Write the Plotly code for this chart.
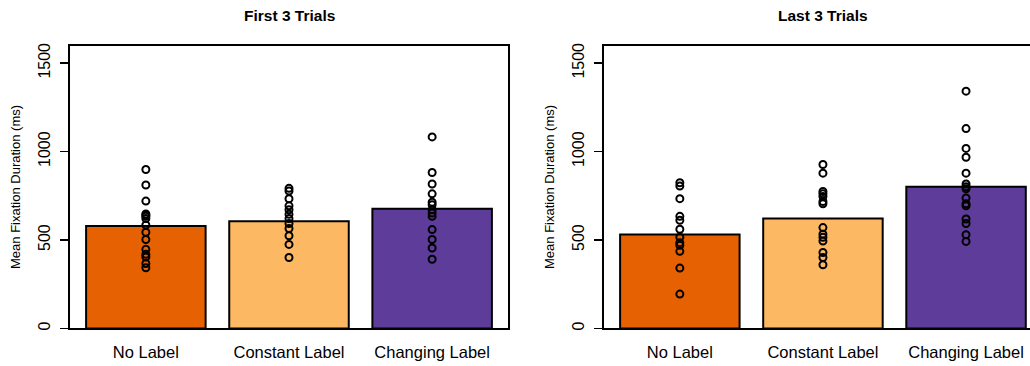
import plotly.graph_objects as go

categories = ["No Label", "Constant Label", "Changing Label"]
colors = ["#E66101", "#FDB863", "#5E3C99"]

first_means = [579, 606, 677]
last_means = [531, 621, 801]

first_no = [899, 811, 720, 647, 640, 634, 621, 585, 544, 503, 447, 419, 404, 367, 343]
first_const = [792, 777, 733, 693, 671, 645, 621, 593, 565, 524, 475, 401]
first_change = [1083, 882, 817, 761, 714, 699, 671, 652, 634, 559, 503, 455, 391]

last_no = [824, 805, 734, 634, 611, 561, 516, 485, 470, 436, 341, 194]
last_const = [927, 878, 774, 761, 746, 718, 705, 570, 533, 515, 494, 429, 401, 360]
last_change = [1342, 1130, 1018, 968, 878, 817, 801, 790, 738, 705, 694, 619, 593, 530, 492]

titles = ["First 3 Trials", "Last 3 Trials"]
y_title = "Mean Fixation Duration (ms)"
y_ticks = [0, 500, 1000, 1500]

W, H = 1030, 366
FONT = "Liberation Sans, Arial, Helvetica, sans-serif"


def fx(p):
    return p / W


def fy(p):
    return 1 - p / H


fig = go.Figure()

panels = [
    (first_means, [first_no, first_const, first_change], "x", "y"),
    (last_means, [last_no, last_const, last_change], "x2", "y2"),
]

for means, pts, xa, ya in panels:
    fig.add_trace(go.Bar(
        x=[0, 1, 2], y=means, width=0.835,
        marker=dict(color=colors, line=dict(color="black", width=2)),
        xaxis=xa, yaxis=ya, showlegend=False, hoverinfo="skip",
    ))
    for i, p in enumerate(pts):
        fig.add_trace(go.Scatter(
            x=[i] * len(p), y=p, mode="markers",
            marker=dict(symbol="circle-open", size=7, color="black",
                        line=dict(width=2, color="black")),
            xaxis=xa, yaxis=ya, showlegend=False, hoverinfo="skip",
        ))

px = 143.1
ydom = [fy(330), fy(44)]
x1dom = [fx(70), fx(508)]
x2dom = [fx(604), 1.0]
x1rng = [-0.53, 2.53]
x2rng = [-0.53, -0.53 + (W - 604) / px]

common_x = dict(tickvals=[0, 1, 2], ticktext=categories, ticks="",
                showgrid=False, zeroline=False, showline=True, linecolor="black",
                linewidth=2, tickfont=dict(family=FONT, size=16.5, color="black"),
                ticklabelstandoff=8, fixedrange=True, mirror=True,
                ticklabeloverflow="allow")
common_y = dict(range=[0, 1600], tickvals=y_ticks, ticks="outside", ticklen=8,
                tickwidth=1.5, tickcolor="black", showgrid=False, zeroline=False,
                showline=True, linecolor="black", linewidth=2, tickangle=-90,
                tickfont=dict(family=FONT, size=16, color="black"),
                ticklabelstandoff=4, fixedrange=True)

fig.update_layout(
    width=W, height=H,
    margin=dict(l=0, r=0, t=0, b=0),
    paper_bgcolor="white", plot_bgcolor="white",
    bargap=0,
    xaxis=dict(domain=x1dom, range=x1rng, anchor="y", **common_x),
    yaxis=dict(domain=ydom, anchor="x", mirror=True, **common_y),
    xaxis2=dict(domain=x2dom, range=x2rng, anchor="y2", **common_x),
    yaxis2=dict(domain=ydom, anchor="x2", mirror=False, **common_y),
)

for t, cx in zip(titles, [289, 823]):
    fig.add_annotation(text="<b>" + t + "</b>", x=fx(cx), y=fy(14), xref="paper",
                       yref="paper", showarrow=False, xanchor="center", yanchor="middle",
                       font=dict(family=FONT, size=15.5, color="black"))
for lx in [16, 550]:
    fig.add_annotation(text=y_title, x=fx(lx), y=fy(187), xref="paper", yref="paper",
                       showarrow=False, textangle=-90, xanchor="center", yanchor="middle",
                       font=dict(family=FONT, size=13, color="black"))

fig.write_html("out.html",
               config={"displayModeBar": False, "staticPlot": True},
               post_script="document.body.style.margin='0';"
                           "document.body.style.overflow='hidden';")
